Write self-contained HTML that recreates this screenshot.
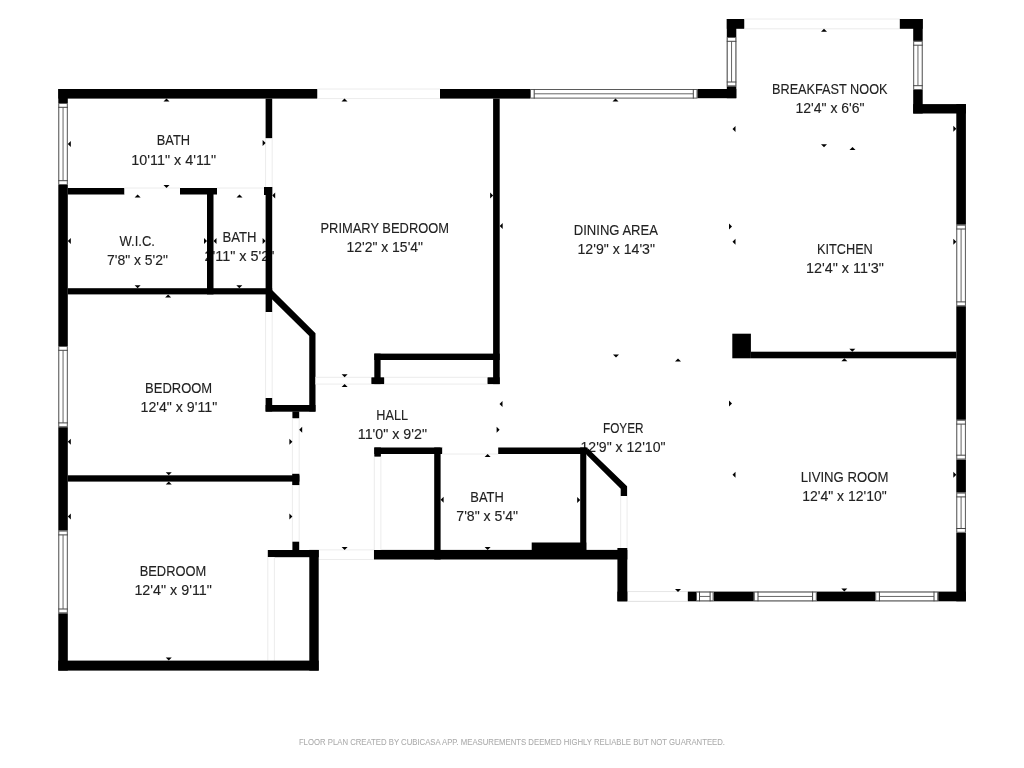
<!DOCTYPE html>
<html><head><meta charset="utf-8"><style>
html,body{margin:0;padding:0;background:#fff;width:1024px;height:768px;overflow:hidden}
svg{display:block;will-change:transform}
text{font-family:"Liberation Sans",sans-serif}
</style></head><body>
<svg width="1024" height="768" viewBox="0 0 1024 768">
<text x="156.80" y="145.00" font-size="14" textLength="33.30" lengthAdjust="spacingAndGlyphs" fill="#222" stroke="#222" stroke-width="0.12">BATH</text>
<text x="131.30" y="165.00" font-size="14" textLength="84.70" lengthAdjust="spacingAndGlyphs" fill="#222" stroke="#222" stroke-width="0.12">10'11&quot; x 4'11&quot;</text>
<text x="119.50" y="246.00" font-size="14" textLength="35.50" lengthAdjust="spacingAndGlyphs" fill="#222" stroke="#222" stroke-width="0.12">W.I.C.</text>
<text x="107.00" y="265.00" font-size="14" textLength="61.00" lengthAdjust="spacingAndGlyphs" fill="#222" stroke="#222" stroke-width="0.12">7'8&quot; x 5'2&quot;</text>
<text x="222.50" y="242.00" font-size="14" textLength="34.00" lengthAdjust="spacingAndGlyphs" fill="#222" stroke="#222" stroke-width="0.12">BATH</text>
<text x="204.50" y="261.00" font-size="14" textLength="70.00" lengthAdjust="spacingAndGlyphs" fill="#222" stroke="#222" stroke-width="0.12">2'11&quot; x 5'2&quot;</text>
<text x="320.50" y="233.00" font-size="14" textLength="128.50" lengthAdjust="spacingAndGlyphs" fill="#222" stroke="#222" stroke-width="0.12">PRIMARY BEDROOM</text>
<text x="346.50" y="252.00" font-size="14" textLength="76.50" lengthAdjust="spacingAndGlyphs" fill="#222" stroke="#222" stroke-width="0.12">12'2&quot; x 15'4&quot;</text>
<text x="573.75" y="235.00" font-size="14" textLength="84.25" lengthAdjust="spacingAndGlyphs" fill="#222" stroke="#222" stroke-width="0.12">DINING AREA</text>
<text x="577.50" y="254.00" font-size="14" textLength="77.50" lengthAdjust="spacingAndGlyphs" fill="#222" stroke="#222" stroke-width="0.12">12'9&quot; x 14'3&quot;</text>
<text x="772.00" y="94.00" font-size="14" textLength="115.50" lengthAdjust="spacingAndGlyphs" fill="#222" stroke="#222" stroke-width="0.12">BREAKFAST NOOK</text>
<text x="795.50" y="113.00" font-size="14" textLength="69.00" lengthAdjust="spacingAndGlyphs" fill="#222" stroke="#222" stroke-width="0.12">12'4&quot; x 6'6&quot;</text>
<text x="817.00" y="253.50" font-size="14" textLength="55.80" lengthAdjust="spacingAndGlyphs" fill="#222" stroke="#222" stroke-width="0.12">KITCHEN</text>
<text x="806.00" y="273.00" font-size="14" textLength="77.80" lengthAdjust="spacingAndGlyphs" fill="#222" stroke="#222" stroke-width="0.12">12'4&quot; x 11'3&quot;</text>
<text x="800.70" y="482.00" font-size="14" textLength="87.70" lengthAdjust="spacingAndGlyphs" fill="#222" stroke="#222" stroke-width="0.12">LIVING ROOM</text>
<text x="802.20" y="501.00" font-size="14" textLength="84.50" lengthAdjust="spacingAndGlyphs" fill="#222" stroke="#222" stroke-width="0.12">12'4&quot; x 12'10&quot;</text>
<text x="603.00" y="433.00" font-size="14" textLength="40.60" lengthAdjust="spacingAndGlyphs" fill="#222" stroke="#222" stroke-width="0.12">FOYER</text>
<text x="580.50" y="452.00" font-size="14" textLength="85.00" lengthAdjust="spacingAndGlyphs" fill="#222" stroke="#222" stroke-width="0.12">12'9&quot; x 12'10&quot;</text>
<text x="376.30" y="420.00" font-size="14" textLength="31.70" lengthAdjust="spacingAndGlyphs" fill="#222" stroke="#222" stroke-width="0.12">HALL</text>
<text x="357.80" y="439.00" font-size="14" textLength="69.20" lengthAdjust="spacingAndGlyphs" fill="#222" stroke="#222" stroke-width="0.12">11'0&quot; x 9'2&quot;</text>
<text x="145.10" y="393.00" font-size="14" textLength="67.10" lengthAdjust="spacingAndGlyphs" fill="#222" stroke="#222" stroke-width="0.12">BEDROOM</text>
<text x="140.50" y="412.00" font-size="14" textLength="76.70" lengthAdjust="spacingAndGlyphs" fill="#222" stroke="#222" stroke-width="0.12">12'4&quot; x 9'11&quot;</text>
<text x="139.70" y="576.00" font-size="14" textLength="66.55" lengthAdjust="spacingAndGlyphs" fill="#222" stroke="#222" stroke-width="0.12">BEDROOM</text>
<text x="134.40" y="595.00" font-size="14" textLength="77.50" lengthAdjust="spacingAndGlyphs" fill="#222" stroke="#222" stroke-width="0.12">12'4&quot; x 9'11&quot;</text>
<text x="470.30" y="502.00" font-size="14" textLength="33.50" lengthAdjust="spacingAndGlyphs" fill="#222" stroke="#222" stroke-width="0.12">BATH</text>
<text x="456.30" y="521.00" font-size="14" textLength="61.70" lengthAdjust="spacingAndGlyphs" fill="#222" stroke="#222" stroke-width="0.12">7'8&quot; x 5'4&quot;</text>
<text x="298.90" y="745.00" font-size="8.3" textLength="426.10" lengthAdjust="spacingAndGlyphs" fill="#aaa" stroke="#aaa" stroke-width="0.06">FLOOR PLAN CREATED BY CUBICASA APP. MEASUREMENTS DEEMED HIGHLY RELIABLE BUT NOT GUARANTEED.</text>
<rect x="58.30" y="89.00" width="259.20" height="9.60" fill="#000"/>
<rect x="317.50" y="89.00" width="122.50" height="9.60" fill="#fff"/>
<line x1="317.50" y1="89.00" x2="440.00" y2="89.00" stroke="#ececec" stroke-width="1"/>
<line x1="317.50" y1="98.60" x2="440.00" y2="98.60" stroke="#ececec" stroke-width="1"/>
<rect x="440.00" y="89.00" width="90.00" height="9.60" fill="#000"/>
<rect x="530.00" y="89.00" width="167.50" height="9.60" fill="#fff"/>
<rect x="530.50" y="89.50" width="166.50" height="8.60" fill="none" stroke="#5a5a5a" stroke-width="1"/>
<line x1="534.20" y1="89.00" x2="534.20" y2="98.60" stroke="#444" stroke-width="1"/>
<line x1="693.30" y1="89.00" x2="693.30" y2="98.60" stroke="#444" stroke-width="1"/>
<line x1="534.20" y1="93.80" x2="693.30" y2="93.80" stroke="#555" stroke-width="0.9"/>
<rect x="697.50" y="89.00" width="38.80" height="9.20" fill="#000"/>
<rect x="726.80" y="19.00" width="9.50" height="79.20" fill="#000"/>
<rect x="726.80" y="37.00" width="9.50" height="49.30" fill="#fff"/>
<rect x="727.30" y="37.50" width="8.50" height="48.30" fill="none" stroke="#5a5a5a" stroke-width="1"/>
<line x1="726.80" y1="41.30" x2="736.30" y2="41.30" stroke="#444" stroke-width="1"/>
<line x1="726.80" y1="82.00" x2="736.30" y2="82.00" stroke="#444" stroke-width="1"/>
<line x1="731.55" y1="41.30" x2="731.55" y2="82.00" stroke="#555" stroke-width="0.9"/>
<rect x="726.80" y="19.00" width="17.70" height="9.80" fill="#000"/>
<rect x="744.50" y="19.00" width="155.30" height="9.80" fill="#fff"/>
<line x1="744.50" y1="19.00" x2="899.80" y2="19.00" stroke="#ececec" stroke-width="1"/>
<line x1="744.50" y1="28.80" x2="899.80" y2="28.80" stroke="#ececec" stroke-width="1"/>
<rect x="899.80" y="19.00" width="22.90" height="9.80" fill="#000"/>
<rect x="913.20" y="19.00" width="9.50" height="94.50" fill="#000"/>
<rect x="913.20" y="40.90" width="9.50" height="49.10" fill="#fff"/>
<rect x="913.70" y="41.40" width="8.50" height="48.10" fill="none" stroke="#5a5a5a" stroke-width="1"/>
<line x1="913.20" y1="45.20" x2="922.70" y2="45.20" stroke="#444" stroke-width="1"/>
<line x1="913.20" y1="85.70" x2="922.70" y2="85.70" stroke="#444" stroke-width="1"/>
<line x1="917.95" y1="45.20" x2="917.95" y2="85.70" stroke="#555" stroke-width="0.9"/>
<rect x="913.20" y="104.10" width="52.70" height="9.40" fill="#000"/>
<rect x="956.30" y="104.10" width="9.60" height="497.20" fill="#000"/>
<rect x="956.30" y="224.70" width="9.60" height="81.50" fill="#fff"/>
<rect x="956.80" y="225.20" width="8.60" height="80.50" fill="none" stroke="#5a5a5a" stroke-width="1"/>
<line x1="956.30" y1="229.00" x2="965.90" y2="229.00" stroke="#444" stroke-width="1"/>
<line x1="956.30" y1="301.90" x2="965.90" y2="301.90" stroke="#444" stroke-width="1"/>
<line x1="961.10" y1="229.00" x2="961.10" y2="301.90" stroke="#555" stroke-width="0.9"/>
<rect x="956.30" y="419.80" width="9.60" height="39.70" fill="#fff"/>
<rect x="956.80" y="420.30" width="8.60" height="38.70" fill="none" stroke="#5a5a5a" stroke-width="1"/>
<line x1="956.30" y1="424.10" x2="965.90" y2="424.10" stroke="#444" stroke-width="1"/>
<line x1="956.30" y1="455.20" x2="965.90" y2="455.20" stroke="#444" stroke-width="1"/>
<line x1="961.10" y1="424.10" x2="961.10" y2="455.20" stroke="#555" stroke-width="0.9"/>
<rect x="956.30" y="492.60" width="9.60" height="40.20" fill="#fff"/>
<rect x="956.80" y="493.10" width="8.60" height="39.20" fill="none" stroke="#5a5a5a" stroke-width="1"/>
<line x1="956.30" y1="496.90" x2="965.90" y2="496.90" stroke="#444" stroke-width="1"/>
<line x1="956.30" y1="528.50" x2="965.90" y2="528.50" stroke="#444" stroke-width="1"/>
<line x1="961.10" y1="496.90" x2="961.10" y2="528.50" stroke="#555" stroke-width="0.9"/>
<rect x="617.40" y="591.60" width="348.50" height="9.70" fill="#000"/>
<rect x="627.30" y="591.60" width="60.50" height="9.70" fill="#fff"/>
<line x1="627.30" y1="591.60" x2="687.80" y2="591.60" stroke="#ececec" stroke-width="1"/>
<line x1="627.30" y1="601.30" x2="687.80" y2="601.30" stroke="#ececec" stroke-width="1"/>
<rect x="696.00" y="591.60" width="17.60" height="9.70" fill="#fff"/>
<rect x="696.50" y="592.10" width="16.60" height="8.70" fill="none" stroke="#5a5a5a" stroke-width="1"/>
<line x1="699.50" y1="591.60" x2="699.50" y2="601.30" stroke="#444" stroke-width="1"/>
<line x1="710.10" y1="591.60" x2="710.10" y2="601.30" stroke="#444" stroke-width="1"/>
<line x1="699.50" y1="596.45" x2="710.10" y2="596.45" stroke="#555" stroke-width="0.9"/>
<rect x="753.80" y="591.60" width="63.00" height="9.70" fill="#fff"/>
<rect x="754.30" y="592.10" width="62.00" height="8.70" fill="none" stroke="#5a5a5a" stroke-width="1"/>
<line x1="758.00" y1="591.60" x2="758.00" y2="601.30" stroke="#444" stroke-width="1"/>
<line x1="812.60" y1="591.60" x2="812.60" y2="601.30" stroke="#444" stroke-width="1"/>
<line x1="758.00" y1="596.45" x2="812.60" y2="596.45" stroke="#555" stroke-width="0.9"/>
<rect x="875.20" y="591.60" width="63.00" height="9.70" fill="#fff"/>
<rect x="875.70" y="592.10" width="62.00" height="8.70" fill="none" stroke="#5a5a5a" stroke-width="1"/>
<line x1="879.40" y1="591.60" x2="879.40" y2="601.30" stroke="#444" stroke-width="1"/>
<line x1="934.00" y1="591.60" x2="934.00" y2="601.30" stroke="#444" stroke-width="1"/>
<line x1="879.40" y1="596.45" x2="934.00" y2="596.45" stroke="#555" stroke-width="0.9"/>
<rect x="617.40" y="548.00" width="9.90" height="53.30" fill="#000"/>
<rect x="373.80" y="549.90" width="253.50" height="9.60" fill="#000"/>
<rect x="531.70" y="542.50" width="54.60" height="8.00" fill="#000"/>
<rect x="318.70" y="549.90" width="55.10" height="9.60" fill="#fff"/>
<line x1="318.70" y1="549.90" x2="373.80" y2="549.90" stroke="#ececec" stroke-width="1"/>
<line x1="318.70" y1="559.50" x2="373.80" y2="559.50" stroke="#ececec" stroke-width="1"/>
<rect x="309.30" y="549.90" width="9.40" height="120.70" fill="#000"/>
<rect x="267.80" y="550.00" width="50.90" height="7.20" fill="#000"/>
<rect x="267.80" y="557.20" width="6.60" height="103.40" fill="#fff"/>
<line x1="267.80" y1="557.20" x2="267.80" y2="660.60" stroke="#ececec" stroke-width="1"/>
<line x1="274.40" y1="557.20" x2="274.40" y2="660.60" stroke="#ececec" stroke-width="1"/>
<rect x="58.30" y="660.60" width="260.40" height="10.00" fill="#000"/>
<rect x="58.30" y="89.00" width="9.50" height="581.60" fill="#000"/>
<rect x="58.30" y="103.00" width="9.50" height="82.00" fill="#fff"/>
<rect x="58.80" y="103.50" width="8.50" height="81.00" fill="none" stroke="#5a5a5a" stroke-width="1"/>
<line x1="58.30" y1="107.30" x2="67.80" y2="107.30" stroke="#444" stroke-width="1"/>
<line x1="58.30" y1="180.70" x2="67.80" y2="180.70" stroke="#444" stroke-width="1"/>
<line x1="63.05" y1="107.30" x2="63.05" y2="180.70" stroke="#555" stroke-width="0.9"/>
<rect x="58.30" y="346.00" width="9.50" height="81.20" fill="#fff"/>
<rect x="58.80" y="346.50" width="8.50" height="80.20" fill="none" stroke="#5a5a5a" stroke-width="1"/>
<line x1="58.30" y1="350.30" x2="67.80" y2="350.30" stroke="#444" stroke-width="1"/>
<line x1="58.30" y1="422.90" x2="67.80" y2="422.90" stroke="#444" stroke-width="1"/>
<line x1="63.05" y1="350.30" x2="63.05" y2="422.90" stroke="#555" stroke-width="0.9"/>
<rect x="58.30" y="530.60" width="9.50" height="82.70" fill="#fff"/>
<rect x="58.80" y="531.10" width="8.50" height="81.70" fill="none" stroke="#5a5a5a" stroke-width="1"/>
<line x1="58.30" y1="534.90" x2="67.80" y2="534.90" stroke="#444" stroke-width="1"/>
<line x1="58.30" y1="609.00" x2="67.80" y2="609.00" stroke="#444" stroke-width="1"/>
<line x1="63.05" y1="534.90" x2="63.05" y2="609.00" stroke="#555" stroke-width="0.9"/>
<rect x="67.80" y="188.00" width="56.70" height="6.50" fill="#000"/>
<rect x="124.50" y="188.00" width="55.50" height="6.50" fill="#fff"/>
<line x1="124.50" y1="188.00" x2="180.00" y2="188.00" stroke="#ececec" stroke-width="1"/>
<rect x="180.00" y="188.00" width="37.00" height="6.50" fill="#000"/>
<rect x="217.00" y="188.00" width="48.60" height="6.50" fill="#fff"/>
<line x1="217.00" y1="188.00" x2="265.60" y2="188.00" stroke="#ececec" stroke-width="1"/>
<rect x="207.00" y="188.00" width="6.50" height="106.40" fill="#000"/>
<rect x="265.60" y="98.60" width="6.60" height="39.80" fill="#000"/>
<rect x="265.60" y="138.40" width="6.60" height="48.60" fill="#fff"/>
<line x1="265.60" y1="138.40" x2="265.60" y2="187.00" stroke="#ececec" stroke-width="1"/>
<line x1="272.20" y1="138.40" x2="272.20" y2="187.00" stroke="#ececec" stroke-width="1"/>
<rect x="265.60" y="187.00" width="6.60" height="125.00" fill="#000"/>
<rect x="264.00" y="187.00" width="8.20" height="8.00" fill="#000"/>
<rect x="67.80" y="288.20" width="204.40" height="6.20" fill="#000"/>
<polygon points="272.00,290.00 315.50,333.30 315.50,411.50 309.25,411.50 309.25,336.00 272.00,299.30" fill="#000"/>
<rect x="265.60" y="312.00" width="6.60" height="86.00" fill="#fff"/>
<line x1="265.60" y1="312.00" x2="265.60" y2="398.00" stroke="#ececec" stroke-width="1"/>
<line x1="272.20" y1="312.00" x2="272.20" y2="398.00" stroke="#ececec" stroke-width="1"/>
<rect x="265.60" y="398.00" width="6.60" height="13.50" fill="#000"/>
<rect x="265.60" y="405.00" width="49.90" height="6.70" fill="#000"/>
<rect x="292.40" y="411.50" width="6.80" height="7.00" fill="#000"/>
<rect x="292.40" y="418.50" width="6.80" height="55.30" fill="#fff"/>
<line x1="292.40" y1="418.50" x2="292.40" y2="473.80" stroke="#ececec" stroke-width="1"/>
<line x1="299.20" y1="418.50" x2="299.20" y2="473.80" stroke="#ececec" stroke-width="1"/>
<rect x="292.20" y="473.80" width="7.20" height="11.50" fill="#000"/>
<rect x="292.40" y="485.30" width="6.80" height="56.40" fill="#fff"/>
<line x1="292.40" y1="485.30" x2="292.40" y2="541.70" stroke="#ececec" stroke-width="1"/>
<line x1="299.20" y1="485.30" x2="299.20" y2="541.70" stroke="#ececec" stroke-width="1"/>
<rect x="292.40" y="541.70" width="6.80" height="8.90" fill="#000"/>
<rect x="67.80" y="475.30" width="231.60" height="6.30" fill="#000"/>
<rect x="493.10" y="98.60" width="6.60" height="285.50" fill="#000"/>
<rect x="487.30" y="377.30" width="12.40" height="6.80" fill="#000"/>
<rect x="374.30" y="353.60" width="125.40" height="6.40" fill="#000"/>
<rect x="374.30" y="353.60" width="6.30" height="30.50" fill="#000"/>
<rect x="371.20" y="377.30" width="13.20" height="6.80" fill="#000"/>
<rect x="384.40" y="377.30" width="102.90" height="6.80" fill="#fff"/>
<line x1="384.40" y1="377.30" x2="487.30" y2="377.30" stroke="#ececec" stroke-width="1"/>
<line x1="384.40" y1="384.10" x2="487.30" y2="384.10" stroke="#ececec" stroke-width="1"/>
<rect x="315.50" y="377.30" width="55.70" height="6.80" fill="#fff"/>
<line x1="315.50" y1="377.30" x2="371.20" y2="377.30" stroke="#ececec" stroke-width="1"/>
<line x1="315.50" y1="384.10" x2="371.20" y2="384.10" stroke="#ececec" stroke-width="1"/>
<rect x="374.30" y="447.50" width="68.10" height="6.50" fill="#000"/>
<rect x="374.30" y="447.50" width="6.60" height="9.30" fill="#000"/>
<rect x="374.30" y="456.80" width="6.60" height="93.10" fill="#fff"/>
<line x1="374.30" y1="456.80" x2="374.30" y2="549.90" stroke="#ececec" stroke-width="1"/>
<line x1="380.90" y1="456.80" x2="380.90" y2="549.90" stroke="#ececec" stroke-width="1"/>
<rect x="434.20" y="447.50" width="6.40" height="112.00" fill="#000"/>
<rect x="442.40" y="447.50" width="55.80" height="6.50" fill="#fff"/>
<line x1="442.40" y1="454.00" x2="498.20" y2="454.00" stroke="#ececec" stroke-width="1"/>
<rect x="498.20" y="447.50" width="89.30" height="6.50" fill="#000"/>
<rect x="580.20" y="447.50" width="6.10" height="103.00" fill="#000"/>
<polygon points="587.50,447.90 627.10,486.25 627.10,496.00 620.70,496.00 620.70,488.75 586.25,454.60" fill="#000"/>
<rect x="620.70" y="496.00" width="6.40" height="52.00" fill="#fff"/>
<line x1="620.70" y1="496.00" x2="620.70" y2="548.00" stroke="#ececec" stroke-width="1"/>
<line x1="627.10" y1="496.00" x2="627.10" y2="548.00" stroke="#ececec" stroke-width="1"/>
<rect x="750.90" y="351.70" width="205.40" height="6.60" fill="#000"/>
<rect x="732.30" y="333.70" width="18.60" height="24.60" fill="#000"/>
<polygon points="166.50,98.60 163.50,101.60 169.50,101.60" fill="#000"/>
<polygon points="67.80,144.00 70.80,141.00 70.80,147.00" fill="#000"/>
<polygon points="265.60,143.00 262.60,140.00 262.60,146.00" fill="#000"/>
<polygon points="166.50,188.00 163.50,185.00 169.50,185.00" fill="#000"/>
<polygon points="137.60,194.50 134.60,197.50 140.60,197.50" fill="#000"/>
<polygon points="67.80,241.00 70.80,238.00 70.80,244.00" fill="#000"/>
<polygon points="207.00,241.00 204.00,238.00 204.00,244.00" fill="#000"/>
<polygon points="137.60,288.20 134.60,285.20 140.60,285.20" fill="#000"/>
<polygon points="239.50,194.50 236.50,197.50 242.50,197.50" fill="#000"/>
<polygon points="213.50,241.00 216.50,238.00 216.50,244.00" fill="#000"/>
<polygon points="265.60,241.00 262.60,238.00 262.60,244.00" fill="#000"/>
<polygon points="239.30,288.20 236.30,285.20 242.30,285.20" fill="#000"/>
<polygon points="344.50,98.60 341.50,101.60 347.50,101.60" fill="#000"/>
<polygon points="272.20,195.50 275.20,192.50 275.20,198.50" fill="#000"/>
<polygon points="493.10,195.50 490.10,192.50 490.10,198.50" fill="#000"/>
<polygon points="344.60,377.30 341.60,374.30 347.60,374.30" fill="#000"/>
<polygon points="615.50,98.60 612.50,101.60 618.50,101.60" fill="#000"/>
<polygon points="499.70,226.00 502.70,223.00 502.70,229.00" fill="#000"/>
<polygon points="732.00,226.50 729.00,223.50 729.00,229.50" fill="#000"/>
<polygon points="616.00,357.50 613.00,354.50 619.00,354.50" fill="#000"/>
<polygon points="732.50,241.80 735.50,238.80 735.50,244.80" fill="#000"/>
<polygon points="956.30,241.80 953.30,238.80 953.30,244.80" fill="#000"/>
<polygon points="852.30,351.70 849.30,348.70 855.30,348.70" fill="#000"/>
<polygon points="852.50,147.10 849.50,150.10 855.50,150.10" fill="#000"/>
<polygon points="824.00,28.80 821.00,31.80 827.00,31.80" fill="#000"/>
<polygon points="732.50,129.00 735.50,126.00 735.50,132.00" fill="#000"/>
<polygon points="956.30,128.75 953.30,125.75 953.30,131.75" fill="#000"/>
<polygon points="824.00,147.20 821.00,144.20 827.00,144.20" fill="#000"/>
<polygon points="844.40,358.30 841.40,361.30 847.40,361.30" fill="#000"/>
<polygon points="732.50,474.80 735.50,471.80 735.50,477.80" fill="#000"/>
<polygon points="956.30,474.80 953.30,471.80 953.30,477.80" fill="#000"/>
<polygon points="844.30,591.60 841.30,588.60 847.30,588.60" fill="#000"/>
<polygon points="678.00,358.40 675.00,361.40 681.00,361.40" fill="#000"/>
<polygon points="732.00,403.50 729.00,400.50 729.00,406.50" fill="#000"/>
<polygon points="499.50,404.00 502.50,401.00 502.50,407.00" fill="#000"/>
<polygon points="678.00,592.00 675.00,589.00 681.00,589.00" fill="#000"/>
<polygon points="344.60,384.10 341.60,387.10 347.60,387.10" fill="#000"/>
<polygon points="299.20,429.80 302.20,426.80 302.20,432.80" fill="#000"/>
<polygon points="499.60,429.80 496.60,426.80 496.60,432.80" fill="#000"/>
<polygon points="344.60,549.90 341.60,546.90 347.60,546.90" fill="#000"/>
<polygon points="487.60,454.00 484.60,457.00 490.60,457.00" fill="#000"/>
<polygon points="440.60,499.80 443.60,496.80 443.60,502.80" fill="#000"/>
<polygon points="580.20,499.90 577.20,496.90 577.20,502.90" fill="#000"/>
<polygon points="487.60,549.90 484.60,546.90 490.60,546.90" fill="#000"/>
<polygon points="168.10,294.40 165.10,297.40 171.10,297.40" fill="#000"/>
<polygon points="67.80,441.70 70.80,438.70 70.80,444.70" fill="#000"/>
<polygon points="292.40,441.70 289.40,438.70 289.40,444.70" fill="#000"/>
<polygon points="168.75,475.30 165.75,472.30 171.75,472.30" fill="#000"/>
<polygon points="168.75,481.60 165.75,484.60 171.75,484.60" fill="#000"/>
<polygon points="67.80,516.60 70.80,513.60 70.80,519.60" fill="#000"/>
<polygon points="292.40,516.60 289.40,513.60 289.40,519.60" fill="#000"/>
<polygon points="168.75,660.60 165.75,657.60 171.75,657.60" fill="#000"/>
</svg>
</body></html>
